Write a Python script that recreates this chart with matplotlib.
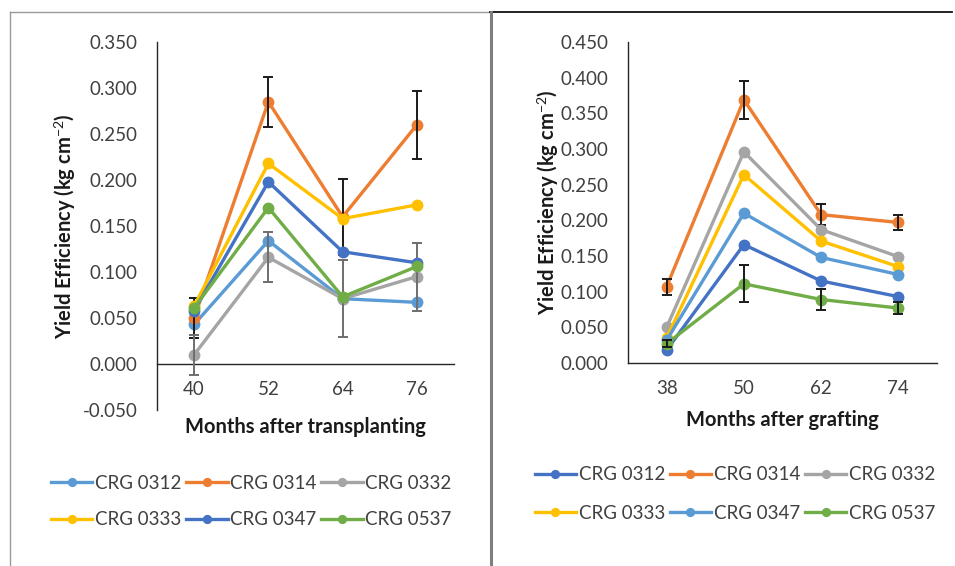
import numpy as np
import matplotlib
matplotlib.use('Agg')
import matplotlib.pyplot as plt
from matplotlib.lines import Line2D
from matplotlib.ticker import FormatStrFormatter

plt.rcParams['font.family'] = ['Lato', 'DejaVu Sans']
plt.rcParams['mathtext.fontset'] = 'custom'
plt.rcParams['mathtext.rm'] = 'Lato'
plt.rcParams['mathtext.it'] = 'Lato:italic'
plt.rcParams['mathtext.bf'] = 'Lato:bold'

clones = ['CRG 0312', 'CRG 0314', 'CRG 0332', 'CRG 0333', 'CRG 0347', 'CRG 0537']

# left panel: months after transplanting
months_tp = ['40', '52', '64', '76']
tp_0312 = [0.043, 0.134, 0.071, 0.067]
tp_0314 = [0.050, 0.285, 0.160, 0.260]
tp_0332 = [0.010, 0.116, 0.071, 0.095]
tp_0333 = [0.063, 0.218, 0.158, 0.173]
tp_0347 = [0.058, 0.198, 0.122, 0.110]
tp_0537 = [0.061, 0.170, 0.073, 0.106]
tp_err_0314 = [0.022, 0.027, 0.041, 0.037]
tp_err_0332 = [0.022, 0.027, 0.042, 0.037]

# right panel: months after grafting
months_gr = ['38', '50', '62', '74']
gr_0312 = [0.018, 0.166, 0.115, 0.093]
gr_0314 = [0.107, 0.369, 0.208, 0.197]
gr_0332 = [0.050, 0.296, 0.187, 0.149]
gr_0333 = [0.035, 0.264, 0.171, 0.135]
gr_0347 = [0.032, 0.210, 0.148, 0.124]
gr_0537 = [0.027, 0.111, 0.089, 0.077]
gr_err_0314 = [0.011, 0.027, 0.015, 0.011]
gr_err_0537 = [0.005, 0.026, 0.015, 0.009]

BLUE, ORANGE, GRAY = '#4472C4', '#ED7D31', '#A5A5A5'
YELLOW, LBLUE, GREEN = '#FFC000', '#5B9BD5', '#70AD47'

TXT = '#404040'
FS = 13.5
LFS = 14.5


def draw_panel(ax, months, series, colors, errors, ylo, yhi, xlabel):
    x = np.arange(len(months))
    handles = []
    for i, (name, vals, col) in enumerate(zip(clones, series, colors)):
        h, = ax.plot(x, vals, '-o', color=col, lw=2.4, ms=7.5, label=name,
                     zorder=3 + i * 0.1)
        handles.append(h)
        # error bars belong to the series they follow
        for idx, err, ecol in errors:
            if idx == i:
                ax.errorbar(x, vals, yerr=err, fmt='none', ecolor=ecol,
                            elinewidth=1.4, capsize=3.5, capthick=1.4,
                            zorder=3 + i * 0.1 + 0.05)
    ax.set_xlim(-0.5, len(months) - 0.5)
    ax.set_ylim(ylo, yhi)
    ax.set_xticks(x)
    ax.set_xticklabels(months)
    ax.set_yticks(np.arange(ylo, yhi + 0.001, 0.05))
    ax.yaxis.set_major_formatter(FormatStrFormatter('%.3f'))
    for s in ['top', 'right']:
        ax.spines[s].set_visible(False)
    for s in ['left', 'bottom']:
        ax.spines[s].set_color('#262626')
        ax.spines[s].set_linewidth(1.0)
    ax.spines['bottom'].set_position(('data', 0))
    ax.tick_params(length=0, labelsize=FS, colors=TXT)
    ax.tick_params(axis='y', pad=14)
    ax.tick_params(axis='x', pad=12)
    ax.set_xlabel(xlabel, fontsize=LFS, fontweight='bold', color='#1a1a1a')
    ax.set_ylabel(r'Yield Efficiency (kg cm$^{-2}$)', fontsize=LFS,
                  fontweight='bold', color='#1a1a1a')
    ax.patch.set_alpha(0)
    return handles


fig = plt.figure(figsize=(9.55, 5.66), dpi=100)
W, H = 955.0, 566.0

# left panel
ax1 = fig.add_axes([157 / W, 1 - 410 / H, 297 / W, 368 / H])
h1 = draw_panel(ax1, months_tp,
                [tp_0312, tp_0314, tp_0332, tp_0333, tp_0347, tp_0537],
                [LBLUE, ORANGE, GRAY, YELLOW, BLUE, GREEN],
                [(1, tp_err_0314, '#1a1a1a'), (2, tp_err_0332, '#6e6e6e')],
                -0.05, 0.35, 'Months after transplanting')
ax1.xaxis.set_label_coords(0.50, -0.046)
ax1.xaxis.label.set_va('center')
ax1.yaxis.set_label_coords(-0.31, 0.5)
ax1.yaxis.label.set_va('center')

# right panel
ax2 = fig.add_axes([628 / W, 1 - 363 / H, 309 / W, 321 / H])
h2 = draw_panel(ax2, months_gr,
                [gr_0312, gr_0314, gr_0332, gr_0333, gr_0347, gr_0537],
                [BLUE, ORANGE, GRAY, YELLOW, LBLUE, GREEN],
                [(1, gr_err_0314, '#1a1a1a'), (5, gr_err_0537, '#1a1a1a')],
                0.0, 0.45, 'Months after grafting')
ax2.xaxis.set_label_coords(0.498, -0.178)
ax2.xaxis.label.set_va('center')
ax2.yaxis.set_label_coords(-0.262, 0.5)
ax2.yaxis.label.set_va('center')

# legends, row-major order like the original
order = [0, 3, 1, 4, 2, 5]
for hs, cx, cy, sp in [(h1, 251.5, 501.5, 1.05), (h2, 735, 494, 1.15)]:
    fig.legend([hs[k] for k in order], [clones[k] for k in order],
               loc='center', bbox_to_anchor=(cx / W, 1 - cy / H), ncol=3,
               frameon=False, fontsize=FS, handlelength=2.2,
               handletextpad=0.15, columnspacing=0.25, labelspacing=sp,
               markerscale=0.75, borderpad=0, labelcolor=TXT)

# panel frames
fig.add_artist(Line2D([10 / W, 490 / W], [1 - 11.5 / H] * 2,
                      transform=fig.transFigure, color='#9a9a9a', lw=1.0))
fig.add_artist(Line2D([490 / W, 952 / W], [1 - 11.5 / H] * 2,
                      transform=fig.transFigure, color='#111111', lw=1.3))
fig.add_artist(Line2D([10 / W, 10 / W], [0, 1 - 11.5 / H],
                      transform=fig.transFigure, color='#9a9a9a', lw=1.0))
fig.add_artist(Line2D([490.5 / W, 490.5 / W], [0, 1 - 11.5 / H],
                      transform=fig.transFigure, color='#7f7f7f', lw=2.2))

fig.savefig('out.png', dpi=100)
